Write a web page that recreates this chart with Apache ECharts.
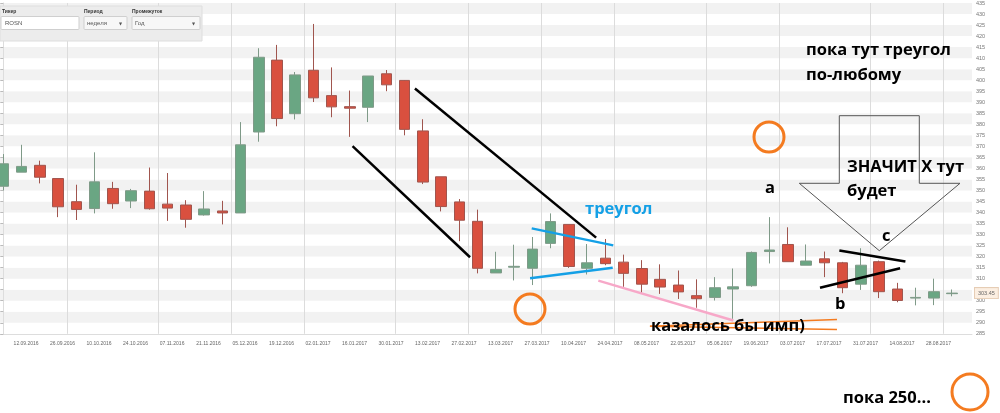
<!DOCTYPE html>
<html><head><meta charset="utf-8">
<script src="https://cdn.jsdelivr.net/npm/echarts@6/dist/echarts.min.js"></script>
<style>html,body{margin:0;padding:0;background:#fff}#c{width:1000px;height:413px}</style>
</head><body><div id="c"></div>
<script>
// ---- data ----
const dates = ['05.09.2016','12.09.2016','19.09.2016','26.09.2016','03.10.2016','10.10.2016','17.10.2016','24.10.2016','31.10.2016','07.11.2016','14.11.2016','21.11.2016','28.11.2016','05.12.2016','12.12.2016','19.12.2016','26.12.2016','02.01.2017','09.01.2017','16.01.2017','23.01.2017','30.01.2017','06.02.2017','13.02.2017','20.02.2017','27.02.2017','06.03.2017','13.03.2017','20.03.2017','27.03.2017','03.04.2017','10.04.2017','17.04.2017','24.04.2017','01.05.2017','08.05.2017','15.05.2017','22.05.2017','29.05.2017','05.06.2017','12.06.2017','19.06.2017','26.06.2017','03.07.2017','10.07.2017','17.07.2017','24.07.2017','31.07.2017','07.08.2017','14.08.2017','21.08.2017','28.08.2017','04.09.2017'];
const opens  = [351.9,358.3,361.4,355.4,344.9,341.8,350.9,345.2,349.7,343.8,343.4,338.9,340.7,339.8,376.5,409.1,384.8,404.5,393.0,388.0,387.7,402.9,399.9,377.0,356.2,344.8,336.0,312.6,315.2,314.7,326.0,334.6,314.7,319.3,317.5,314.6,309.7,307.1,302.3,301.5,305.3,306.8,322.3,325.5,316.1,319.0,317.2,307.5,317.7,305.3,301.2,301.2,303.2];
const closes = [362.1,360.9,356.0,342.6,341.4,353.9,344.0,349.9,341.7,342.0,336.9,341.6,339.8,370.7,410.4,382.6,402.4,392.0,387.9,387.3,401.9,397.9,377.7,353.8,342.7,336.5,314.7,314.2,315.6,323.4,335.9,315.5,317.2,316.8,312.4,307.5,306.2,304.0,300.9,305.9,306.3,321.9,323.0,317.7,318.0,317.2,305.9,316.1,304.1,300.1,301.5,304.1,303.45];
const lows   = [350.0,358.3,353.2,337.9,336.6,339.6,341.7,342.0,341.3,336.2,333.1,338.6,334.6,339.8,372.1,379.1,382.2,390.1,383.2,374.3,381.0,395.0,375.0,352.9,340.5,327.0,312.4,312.6,309.2,307.1,323.8,314.9,311.9,316.1,306.3,303.1,303.1,300.8,296.8,300.1,291.8,306.3,316.9,317.7,316.1,310.7,303.4,304.9,301.2,299.3,297.9,298.0,302.0];
const highs  = [366.5,370.7,363.5,355.4,352.6,367.3,353.9,350.7,360.4,357.9,345.6,349.7,345.3,381.0,414.5,416.0,403.7,425.5,405.8,395.3,401.9,404.6,400.0,382.3,356.2,346.1,341.3,322.2,325.4,328.9,339.6,334.6,325.7,328.0,320.9,318.4,316.5,313.7,309.7,310.7,314.6,322.3,337.9,333.3,325.5,322.3,317.6,323.8,318.2,308.1,305.9,310.0,305.1];

// annotation trend lines in data coordinates [weekIndex, price]
const blackLines = [[[22.56,396.2],[32.49,328.6]], [[19.14,370.1],[25.58,319.7]], [[44.76,305.9],[49.15,314.7]], [[45.82,322.8],[49.44,317.8]]];
const blueLines  = [[[28.96,332.8],[33.43,325.1]], [[28.87,310.2],[33.40,314.9]]];
const pinkLines  = [[[32.61,309.1],[40.01,291.0]]];
const orangeLines = [[[35.44,288.4],[45.69,291.5]], [[35.44,288.4],[45.69,287.0]]];

// ---- build ----
const candles = dates.map((d,i)=>[i, opens[i], closes[i], lows[i], highs[i]]);
const monthStarts = [];
for (let i=1;i<dates.length;i++) if (dates[i].slice(3,5)!==dates[i-1].slice(3,5)) monthStarts.push(i-0.5);
const LABEL_SHIFT = 0.25;
const labelVals = [];
for (let i=1;i<dates.length;i+=2) labelVals.push(i+LABEL_SHIFT);

function seg(pairs, color, width){
  return pairs.map(p=>[
    {coord:p[0], lineStyle:{color:color,width:width,type:'solid',opacity:1}, label:{show:false}},
    {coord:p[1]}
  ]);
}
const mlData = [].concat(
  seg(blackLines,'#000',2.5), seg(blueLines,'#14a0e6',2.5), seg(pinkLines,'#f7a8c8',2.5), seg(orangeLines,'#f47b20',1.5),
  [{yAxis: closes[closes.length-1], lineStyle:{color:'rgba(0,0,0,0)', width:0}, label:{show:true, position:'end', distance:3,
     formatter: p=>Number(p.value).toFixed(2), fontSize:5.5, color:'#666', backgroundColor:'#fcefe2', opacity:1,
     borderColor:'#e6cdb5', borderWidth:1, padding:[2,3], fontFamily:'Liberation Sans'}}]
);

const F = "'Open Sans', sans-serif";
const BIG = 'bold 16.5px '+F;
function txt(x,y,t,fill){ return {type:'text', x:x, y:y, z:100, style:{text:t, fill:fill||'#000', font:BIG, align:'left', verticalAlign:'middle'}}; }
function circ(cx,cy,r){ return {type:'circle', z:100, shape:{cx:cx,cy:cy,r:r}, style:{fill:'none', stroke:'#f47b20', lineWidth:3}}; }
const small = "5px 'Liberation Sans', sans-serif";

const chart = echarts.init(document.getElementById('c'), null, {renderer:'canvas'});
chart.setOption({
  animation:false,
  backgroundColor:'#fff',
  grid:{left:0, right:28, top:-9.6, bottom:79.2, containLabel:false},
  xAxis:{type:'value', min:-0.181, max:53.09,
    axisLine:{show:true, lineStyle:{color:'#ddd'}},
    axisTick:{show:false, customValues:monthStarts},
    splitLine:{show:true, lineStyle:{color:'#dcdcdc', width:1}},
    axisLabel:{customValues:labelVals, formatter:v=>dates[Math.round(v-LABEL_SHIFT)]||'', fontSize:5, color:'#666', margin:7, fontFamily:'Liberation Sans'}
  },
  yAxis:{type:'value', position:'right', min:285, max:435, interval:5,
    axisLine:{show:true, lineStyle:{color:'#ddd'}},
    axisTick:{show:true, inside:true, length:3, lineStyle:{color:'#bbb'}},
    splitLine:{show:false},
    splitArea:{show:true, areaStyle:{color:['#ffffff','#f2f2f2']}},
    axisLabel:{fontSize:5.5, color:'#777', margin:4, fontFamily:'Liberation Sans'}
  },
  series:[{
    type:'candlestick', data:candles, barWidth:11,
    itemStyle:{color:'#6aa683', color0:'#d9503f', borderColor:'#7f9a88', borderColor0:'#a0554e', borderWidth:1},
    markLine:{symbol:['none','none'], silent:true, animation:false, data:mlData}
  }],
  graphic:{elements:[
    // top-left panel
    {type:'rect', z:100, shape:{x:0,y:6,width:202,height:35}, style:{fill:'#ececec', stroke:'#dedede'}},
    {type:'text', z:101, x:2, y:11.5, style:{text:'Тикер', font:"bold "+small, fill:'#333', verticalAlign:'middle'}},
    {type:'text', z:101, x:84, y:11.5, style:{text:'Период', font:"bold "+small, fill:'#333', verticalAlign:'middle'}},
    {type:'text', z:101, x:132, y:11.5, style:{text:'Промежуток', font:"bold "+small, fill:'#333', verticalAlign:'middle'}},
    {type:'rect', z:101, shape:{x:1,y:16.5,width:78,height:13,r:1}, style:{fill:'#fff', stroke:'#cfcfcf'}},
    {type:'text', z:102, x:5, y:23, style:{text:'ROSN', font:"6px 'Liberation Sans'", fill:'#555', verticalAlign:'middle'}},
    {type:'rect', z:101, shape:{x:84,y:16.5,width:43,height:13,r:1}, style:{fill:'#f7f7f7', stroke:'#cfcfcf'}},
    {type:'text', z:102, x:87, y:23, style:{text:'неделя', font:"6px 'Liberation Sans'", fill:'#555', verticalAlign:'middle'}},
    {type:'text', z:102, x:119, y:23.5, style:{text:'▼', font:"4px 'DejaVu Sans'", fill:'#555', verticalAlign:'middle'}},
    {type:'rect', z:101, shape:{x:132,y:16.5,width:68,height:13,r:1}, style:{fill:'#f7f7f7', stroke:'#cfcfcf'}},
    {type:'text', z:102, x:135, y:23, style:{text:'Год', font:"6px 'Liberation Sans'", fill:'#555', verticalAlign:'middle'}},
    {type:'text', z:102, x:192, y:23.5, style:{text:'▼', font:"4px 'DejaVu Sans'", fill:'#555', verticalAlign:'middle'}},
    // arrow outline
    {type:'polygon', z:99, shape:{points:[[839.3,115.7],[919.3,115.7],[919.3,183.3],[960,183.3],[879.3,250.7],[799.3,183.3],[839.3,183.3]]}, style:{fill:'none', stroke:'#555', lineWidth:1}},
    // circles
    circ(530,309,15), circ(769,137,15), circ(970,392,18),
    // texts
    txt(806,50,'пока тут треугол'),
    txt(806,75,'по-любому'),
    txt(847,167,'ЗНАЧИТ Х тут'),
    txt(847,191,'будет'),
    txt(585,209,'треугол','#14a0e6'),
    txt(765,188,'a'),
    txt(835,304,'b'),
    txt(882,236,'c'),
    txt(651,326,'казалось бы имп)'),
    txt(843,398,'пока 250...')
  ]}
});
</script></body></html>
